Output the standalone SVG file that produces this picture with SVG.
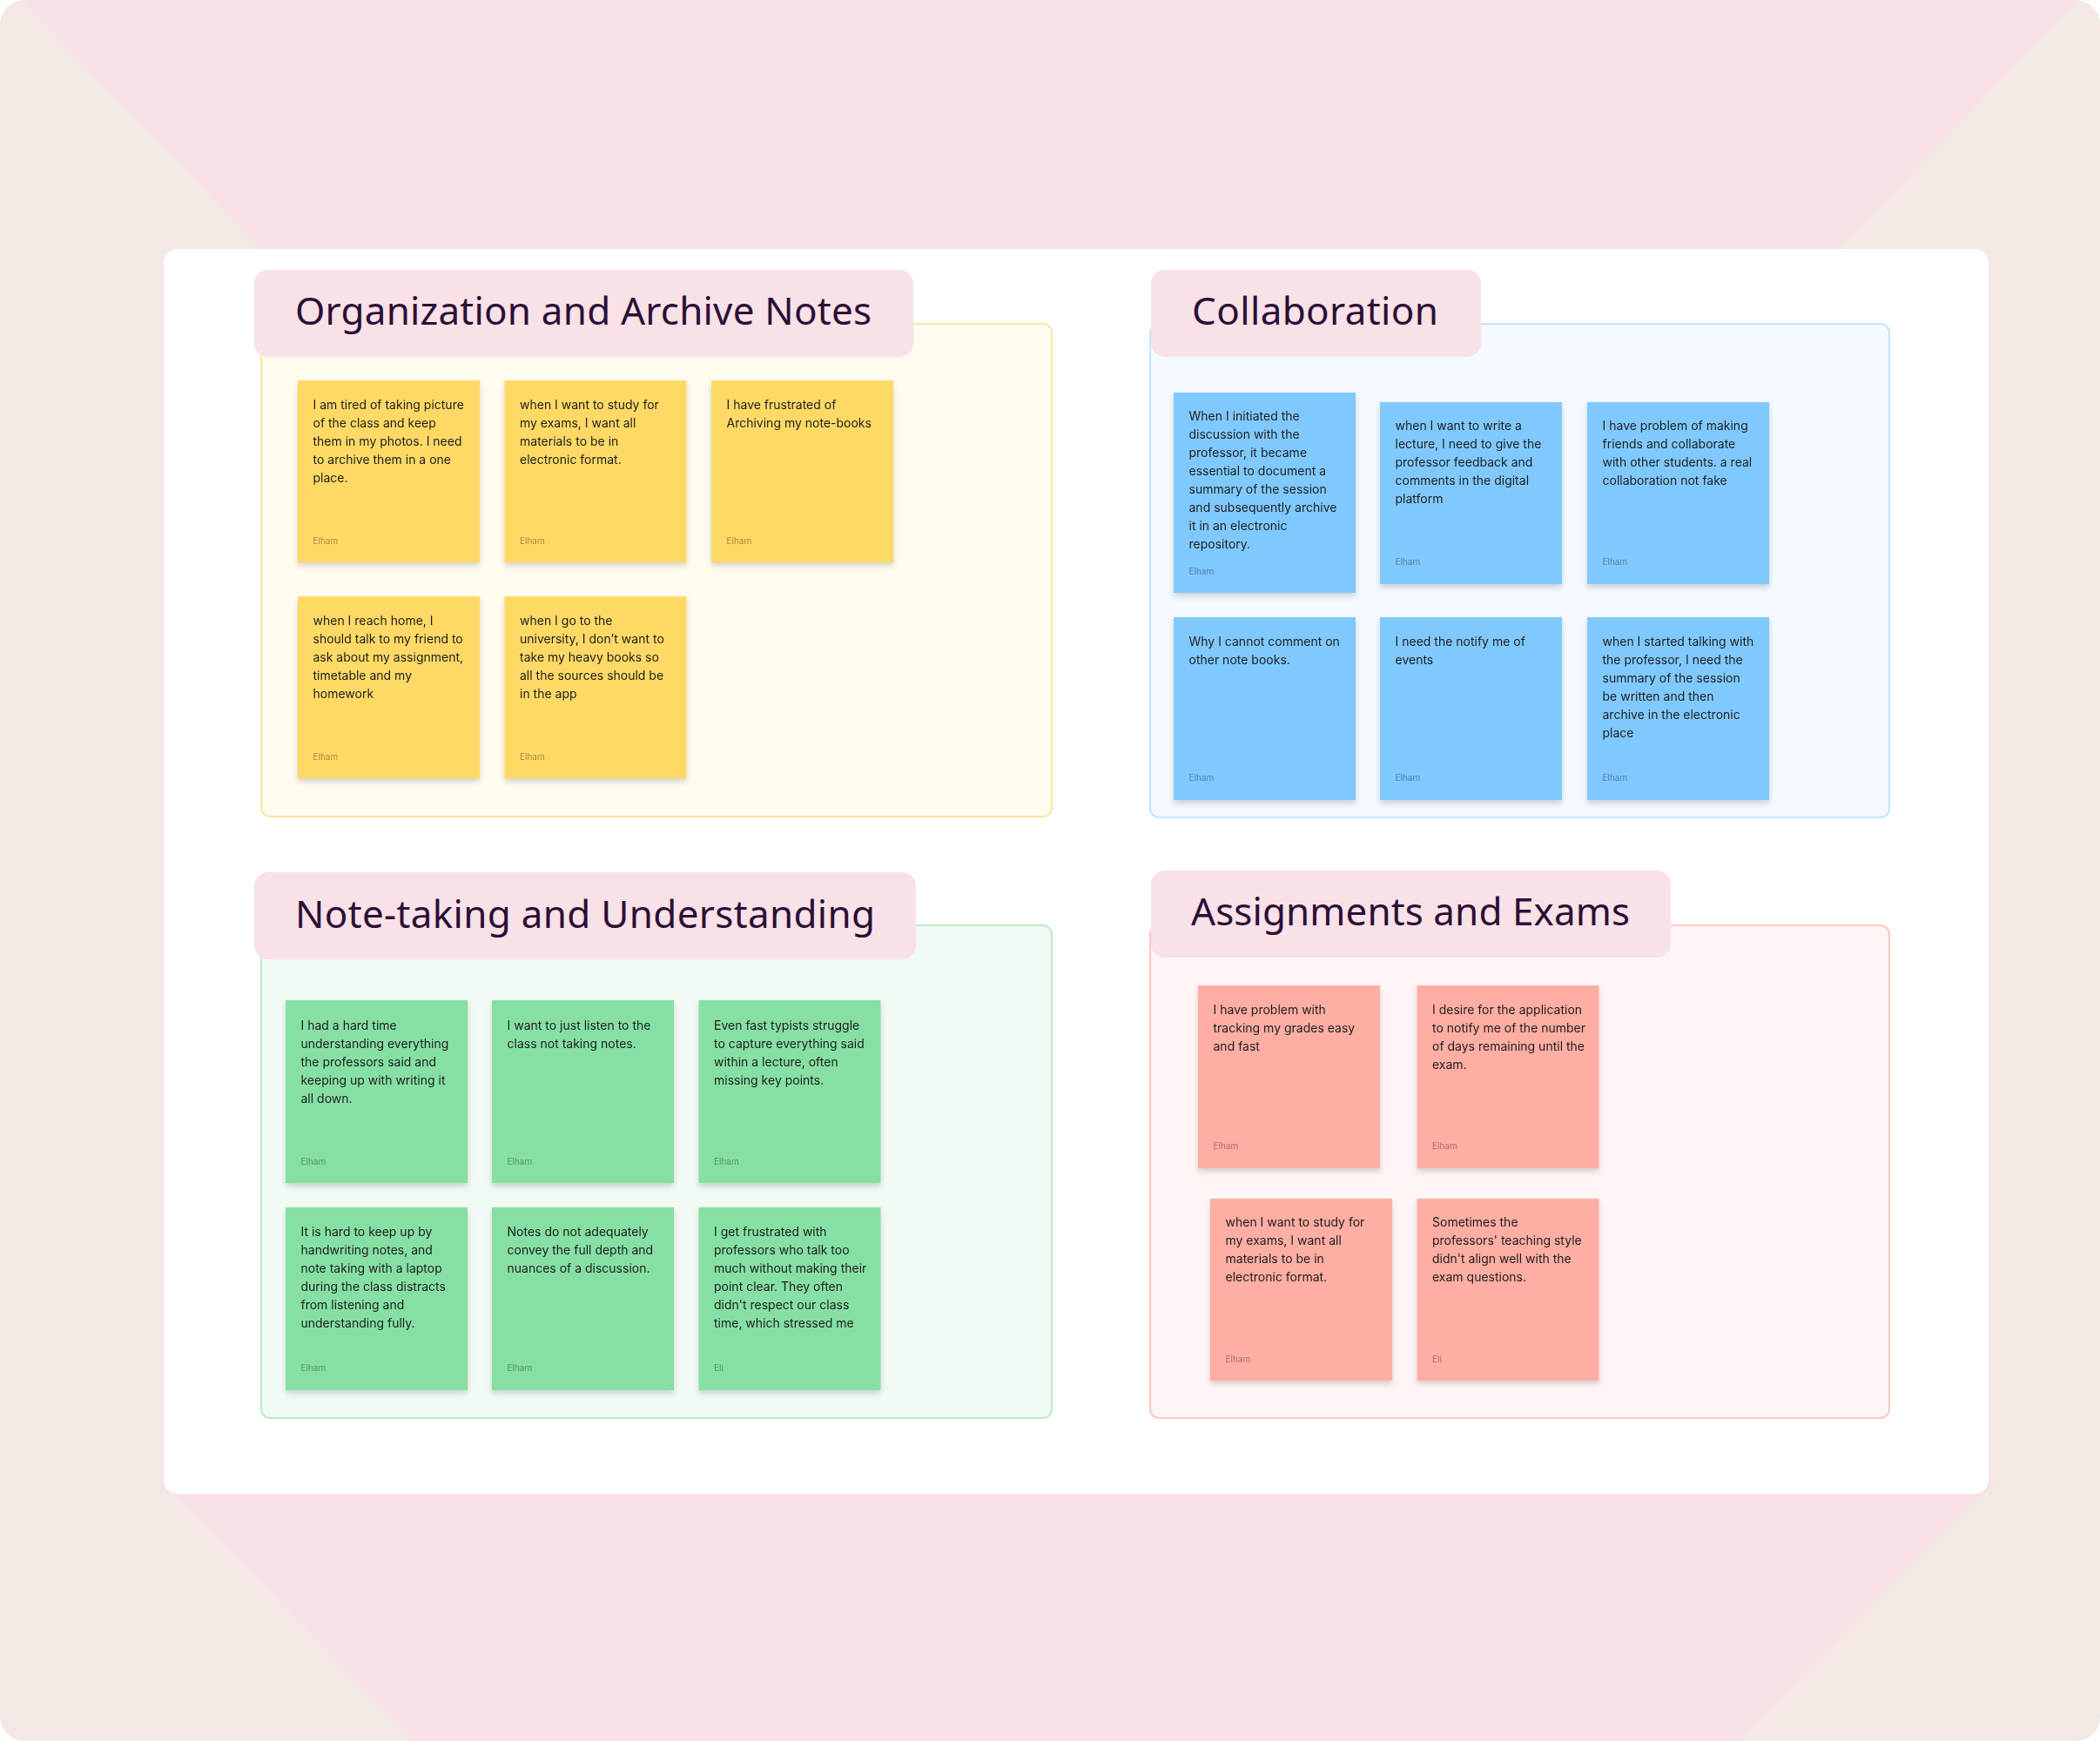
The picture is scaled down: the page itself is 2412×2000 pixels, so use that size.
<svg xmlns="http://www.w3.org/2000/svg" width="2412" height="2000" viewBox="0 0 2412 2000">
<style>
.title{font-family:"Noto Sans","Liberation Sans",sans-serif;font-size:44px;fill:#2B1035;letter-spacing:1px}
.tbox{fill:#F9E1E8}
.t{font-family:Inter,"Liberation Sans",sans-serif;font-size:14px;fill:#1E1E1E}
.a{font-family:Inter,"Liberation Sans",sans-serif;font-size:10px;fill:#000;fill-opacity:.38}
.y{fill:#FFD966}
.b{fill:#80C9FF}
.g{fill:#86E0A4}
.p{fill:#FFAEA3}
.note{filter:url(#sh)}
</style>
<defs>
<filter id="sh" x="-10%" y="-10%" width="120%" height="125%">
<feDropShadow dx="0" dy="4" stdDeviation="3" flood-color="#000" flood-opacity="0.16"/>
</filter>
</defs>
<g id="background">
<rect x="0" y="0" width="2412" height="2000" rx="28" fill="#F2E9E5"/>
<polygon points="25,0 2387,0 2109,290 303,290" fill="#F9E1E8"/>
<polygon points="184,1700 2293,1700 1995,2000 477,2000" fill="#F9E1E8"/>
<rect x="188" y="286" width="2096" height="1430" rx="16" fill="#FFFFFF"/>
</g>
<g id="frames">
<g id="frame-organization">
<rect x="300" y="372" width="908" height="566" rx="10" fill="#FFFCEF" stroke="#FAE6A4" stroke-width="2"/>
<rect class="tbox" x="292" y="310" width="757" height="100" rx="16"/>
<text class="title" x="339" y="373" textLength="663" lengthAdjust="spacing">Organization and Archive Notes</text>
</g>
<g id="frame-collaboration">
<rect x="1321" y="372" width="849" height="567" rx="10" fill="#F3F9FF" stroke="#C3E4FA" stroke-width="2"/>
<rect class="tbox" x="1322" y="310" width="379" height="100" rx="16"/>
<text class="title" x="1369" y="373" textLength="284" lengthAdjust="spacing">Collaboration</text>
</g>
<g id="frame-notetaking">
<rect x="300" y="1063" width="908" height="566" rx="10" fill="#F1FBF4" stroke="#B8ECC8" stroke-width="2"/>
<rect class="tbox" x="292" y="1002" width="760" height="100" rx="16"/>
<text class="title" x="339" y="1066" textLength="667" lengthAdjust="spacing">Note-taking and Understanding</text>
</g>
<g id="frame-assignments">
<rect x="1321" y="1063" width="849" height="566" rx="10" fill="#FFF5F4" stroke="#FAC7C4" stroke-width="2"/>
<rect class="tbox" x="1322" y="1000" width="597" height="100" rx="16"/>
<text class="title" x="1368" y="1063" textLength="505" lengthAdjust="spacing">Assignments and Exams</text>
</g>
</g>
<g id="connectors"/>
<g id="notes">
<g id="y1" class="note"><rect class="y" x="342" y="437" width="209" height="209"/>
<text class="t" x="359.5" y="470"><tspan x="359.5">I am tired of taking picture</tspan><tspan x="359.5" dy="21">of the class and keep</tspan><tspan x="359.5" dy="21">them in my photos. I need</tspan><tspan x="359.5" dy="21">to archive them in a one</tspan><tspan x="359.5" dy="21">place.</tspan></text>
<text class="a" x="359.5" y="625">Elham</text></g>
<g id="y2" class="note"><rect class="y" x="579.5" y="437" width="209" height="209"/>
<text class="t" x="597" y="470"><tspan x="597">when I want to study for</tspan><tspan x="597" dy="21">my exams, I want all</tspan><tspan x="597" dy="21">materials to be in</tspan><tspan x="597" dy="21">electronic format.</tspan></text>
<text class="a" x="597" y="625">Elham</text></g>
<g id="y3" class="note"><rect class="y" x="817" y="437" width="209" height="209"/>
<text class="t" x="834.5" y="470"><tspan x="834.5">I have frustrated of</tspan><tspan x="834.5" dy="21">Archiving my note-books</tspan></text>
<text class="a" x="834.5" y="625">Elham</text></g>
<g id="y4" class="note"><rect class="y" x="342" y="685" width="209" height="209"/>
<text class="t" x="359.5" y="718"><tspan x="359.5">when I reach home, I</tspan><tspan x="359.5" dy="21">should talk to my friend to</tspan><tspan x="359.5" dy="21">ask about my assignment,</tspan><tspan x="359.5" dy="21">timetable and my</tspan><tspan x="359.5" dy="21">homework</tspan></text>
<text class="a" x="359.5" y="873">Elham</text></g>
<g id="y5" class="note"><rect class="y" x="579.5" y="685" width="209" height="209"/>
<text class="t" x="597" y="718"><tspan x="597">when I go to the</tspan><tspan x="597" dy="21">university, I don’t want to</tspan><tspan x="597" dy="21">take my heavy books so</tspan><tspan x="597" dy="21">all the sources should be</tspan><tspan x="597" dy="21">in the app</tspan></text>
<text class="a" x="597" y="873">Elham</text></g>

<g id="c1" class="note"><rect class="b" x="1348" y="451" width="209" height="230"/>
<text class="t" x="1365.5" y="483"><tspan x="1365.5">When I initiated the</tspan><tspan x="1365.5" dy="21">discussion with the</tspan><tspan x="1365.5" dy="21">professor, it became</tspan><tspan x="1365.5" dy="21">essential to document a</tspan><tspan x="1365.5" dy="21">summary of the session</tspan><tspan x="1365.5" dy="21">and subsequently archive</tspan><tspan x="1365.5" dy="21">it in an electronic</tspan><tspan x="1365.5" dy="21">repository.</tspan></text>
<text class="a" x="1365.5" y="660">Elham</text></g>
<g id="c2" class="note"><rect class="b" x="1585" y="462" width="209" height="209"/>
<text class="t" x="1602.5" y="494"><tspan x="1602.5">when I want to write a</tspan><tspan x="1602.5" dy="21">lecture, I need to give the</tspan><tspan x="1602.5" dy="21">professor feedback and</tspan><tspan x="1602.5" dy="21">comments in the digital</tspan><tspan x="1602.5" dy="21">platform</tspan></text>
<text class="a" x="1602.5" y="649">Elham</text></g>
<g id="c3" class="note"><rect class="b" x="1823" y="462" width="209" height="209"/>
<text class="t" x="1840.5" y="494"><tspan x="1840.5">I have problem of making</tspan><tspan x="1840.5" dy="21">friends and collaborate</tspan><tspan x="1840.5" dy="21">with other students. a real</tspan><tspan x="1840.5" dy="21">collaboration not fake</tspan></text>
<text class="a" x="1840.5" y="649">Elham</text></g>
<g id="c4" class="note"><rect class="b" x="1348" y="709" width="209" height="210"/>
<text class="t" x="1365.5" y="742"><tspan x="1365.5">Why I cannot comment on</tspan><tspan x="1365.5" dy="21">other note books.</tspan></text>
<text class="a" x="1365.5" y="897">Elham</text></g>
<g id="c5" class="note"><rect class="b" x="1585" y="709" width="209" height="210"/>
<text class="t" x="1602.5" y="742"><tspan x="1602.5">I need the notify me of</tspan><tspan x="1602.5" dy="21">events</tspan></text>
<text class="a" x="1602.5" y="897">Elham</text></g>
<g id="c6" class="note"><rect class="b" x="1823" y="709" width="209" height="210"/>
<text class="t" x="1840.5" y="742"><tspan x="1840.5">when I started talking with</tspan><tspan x="1840.5" dy="21">the professor, I need the</tspan><tspan x="1840.5" dy="21">summary of the session</tspan><tspan x="1840.5" dy="21">be written and then</tspan><tspan x="1840.5" dy="21">archive in the electronic</tspan><tspan x="1840.5" dy="21">place</tspan></text>
<text class="a" x="1840.5" y="897">Elham</text></g>

<g id="g1" class="note"><rect class="g" x="328" y="1149" width="209" height="210"/>
<text class="t" x="345.5" y="1183"><tspan x="345.5">I had a hard time</tspan><tspan x="345.5" dy="21">understanding everything</tspan><tspan x="345.5" dy="21">the professors said and</tspan><tspan x="345.5" dy="21">keeping up with writing it</tspan><tspan x="345.5" dy="21">all down.</tspan></text>
<text class="a" x="345.5" y="1338">Elham</text></g>
<g id="g2" class="note"><rect class="g" x="565" y="1149" width="209" height="210"/>
<text class="t" x="582.5" y="1183"><tspan x="582.5">I want to just listen to the</tspan><tspan x="582.5" dy="21">class not taking notes.</tspan></text>
<text class="a" x="582.5" y="1338">Elham</text></g>
<g id="g3" class="note"><rect class="g" x="802.5" y="1149" width="209" height="210"/>
<text class="t" x="820" y="1183"><tspan x="820">Even fast typists struggle</tspan><tspan x="820" dy="21">to capture everything said</tspan><tspan x="820" dy="21">within a lecture, often</tspan><tspan x="820" dy="21">missing key points.</tspan></text>
<text class="a" x="820" y="1338">Elham</text></g>
<g id="g4" class="note"><rect class="g" x="328" y="1387" width="209" height="210"/>
<text class="t" x="345.5" y="1420"><tspan x="345.5">It is hard to keep up by</tspan><tspan x="345.5" dy="21">handwriting notes, and</tspan><tspan x="345.5" dy="21">note taking with a laptop</tspan><tspan x="345.5" dy="21">during the class distracts</tspan><tspan x="345.5" dy="21">from listening and</tspan><tspan x="345.5" dy="21">understanding fully.</tspan></text>
<text class="a" x="345.5" y="1575">Elham</text></g>
<g id="g5" class="note"><rect class="g" x="565" y="1387" width="209" height="210"/>
<text class="t" x="582.5" y="1420"><tspan x="582.5">Notes do not adequately</tspan><tspan x="582.5" dy="21">convey the full depth and</tspan><tspan x="582.5" dy="21">nuances of a discussion.</tspan></text>
<text class="a" x="582.5" y="1575">Elham</text></g>
<g id="g6" class="note"><rect class="g" x="802.5" y="1387" width="209" height="210"/>
<text class="t" x="820" y="1420"><tspan x="820">I get frustrated with</tspan><tspan x="820" dy="21">professors who talk too</tspan><tspan x="820" dy="21">much without making their</tspan><tspan x="820" dy="21">point clear. They often</tspan><tspan x="820" dy="21">didn't respect our class</tspan><tspan x="820" dy="21">time, which stressed me</tspan></text>
<text class="a" x="820" y="1575">Eli</text></g>

<g id="a1" class="note"><rect class="p" x="1376" y="1132" width="209" height="210"/>
<text class="t" x="1393.5" y="1165"><tspan x="1393.5">I have problem with</tspan><tspan x="1393.5" dy="21">tracking my grades easy</tspan><tspan x="1393.5" dy="21">and fast</tspan></text>
<text class="a" x="1393.5" y="1320">Elham</text></g>
<g id="a2" class="note"><rect class="p" x="1627.5" y="1132" width="209" height="210"/>
<text class="t" x="1645" y="1165"><tspan x="1645">I desire for the application</tspan><tspan x="1645" dy="21">to notify me of the number</tspan><tspan x="1645" dy="21">of days remaining until the</tspan><tspan x="1645" dy="21">exam.</tspan></text>
<text class="a" x="1645" y="1320">Elham</text></g>
<g id="a3" class="note"><rect class="p" x="1390" y="1377" width="209" height="209"/>
<text class="t" x="1407.5" y="1409"><tspan x="1407.5">when I want to study for</tspan><tspan x="1407.5" dy="21">my exams, I want all</tspan><tspan x="1407.5" dy="21">materials to be in</tspan><tspan x="1407.5" dy="21">electronic format.</tspan></text>
<text class="a" x="1407.5" y="1565">Elham</text></g>
<g id="a4" class="note"><rect class="p" x="1627.5" y="1377" width="209" height="209"/>
<text class="t" x="1645" y="1409"><tspan x="1645">Sometimes the</tspan><tspan x="1645" dy="21">professors' teaching style</tspan><tspan x="1645" dy="21">didn't align well with the</tspan><tspan x="1645" dy="21">exam questions.</tspan></text>
<text class="a" x="1645" y="1565">Eli</text></g>
</g>
</svg>
